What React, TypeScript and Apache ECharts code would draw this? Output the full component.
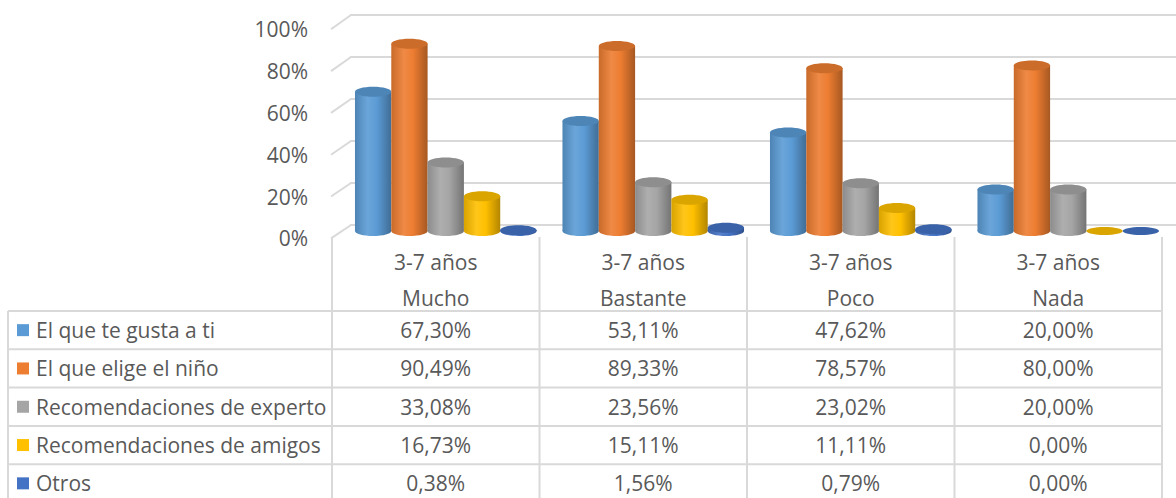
import React, { useEffect, useRef } from "react";
import * as echarts from "echarts";

const ageGroup = "3-7 años";
const categories = ["Mucho", "Bastante", "Poco", "Nada"];
const seriesNames = [
  "El que te gusta a ti",
  "El que elige el niño",
  "Recomendaciones de experto",
  "Recomendaciones de amigos",
  "Otros",
];
const gustaTi = [67.3, 53.11, 47.62, 20.0];
const eligeNino = [90.49, 89.33, 78.57, 80.0];
const experto = [33.08, 23.56, 23.02, 20.0];
const amigos = [16.73, 15.11, 11.11, 0.0];
const otros = [0.38, 1.56, 0.79, 0.0];
const seriesValues = [gustaTi, eligeNino, experto, amigos, otros];
const colors = ["#5B9BD5", "#ED7D31", "#A5A5A5", "#FFC000", "#4472C4"];
const yTicks = [0, 20, 40, 60, 80, 100];

const FONT = "'Open Sans', sans-serif";
const FS = 21;
const TEXT = "#595959";
const LINE = "#d9d9d9";

// table layout
const TABLE_LEFT = 8;
const LABEL_COL_RIGHT = 332;
const COL_W = 207.5;
const HEADER_TOP = 237;
const ROW_TOP = 311;
const ROW_H = 38.3;
const BOTTOM = 498;

function shade(hex: string, f: number): string {
  const n = parseInt(hex.slice(1), 16);
  let r = (n >> 16) & 255, g = (n >> 8) & 255, b = n & 255;
  const t = f < 0 ? 0 : 255;
  const p = Math.abs(f);
  r = Math.round(r + (t - r) * p);
  g = Math.round(g + (t - g) * p);
  b = Math.round(b + (t - b) * p);
  return "#" + ((1 << 24) + (r << 16) + (g << 8) + b).toString(16).slice(1);
}

const fmt = (v: number) => v.toFixed(2).replace(".", ",") + "%";

export default function App() {
  const ref = useRef<HTMLDivElement>(null);
  useEffect(() => {
    const chart = echarts.init(ref.current!, null, { renderer: "svg" });
    const nS = seriesValues.length;
    const series = seriesValues.map((vals, si) => ({
      type: "custom",
      name: seriesNames[si],
      xAxisIndex: 0,
      yAxisIndex: 0,
      z: 5,
      data: vals.map((v, i) => [i, v]),
      encode: { x: 0, y: 1 },
      renderItem: (params: any, api: any) => {
        const c = api.value(0);
        const v = api.value(1);
        const base = api.coord([c, 0]);
        const top = api.coord([c, v]);
        const catW = api.size([1, 0])[0];
        const bw = catW * 0.175;
        const x0 = base[0] - (bw * nS) / 2 + si * bw;
        const cx = x0 + bw / 2;
        const rx = bw / 2;
        const ry = 5;
        const col = colors[si];
        const grad = new echarts.graphic.LinearGradient(0, 0, 1, 0, [
          { offset: 0, color: shade(col, -0.15) },
          { offset: 0.35, color: shade(col, 0.1) },
          { offset: 0.6, color: col },
          { offset: 1, color: shade(col, -0.3) },
        ]);
        const children: any[] = [];
        if (v > 0.2) {
          children.push({
            type: "ellipse",
            shape: { cx, cy: base[1], rx, ry },
            style: { fill: grad },
          });
          children.push({
            type: "rect",
            shape: { x: x0, y: top[1], width: bw, height: base[1] - top[1] },
            style: { fill: grad },
          });
          children.push({
            type: "ellipse",
            shape: { cx, cy: top[1], rx, ry },
            style: { fill: shade(col, -0.14) },
          });
        } else {
          children.push({
            type: "ellipse",
            shape: { cx, cy: top[1], rx, ry: 4 },
            style: { fill: shade(col, -0.14) },
          });
        }
        return { type: "group", children };
      },
    }));

    chart.setOption({
      animation: false,
      grid: [
        { left: 342, width: COL_W * 4, top: 24, height: 207 },
        { left: 350, right: 0, top: 15, height: 210 },
        { left: 331, width: 1, top: 29.3, height: 209 },
      ],
      xAxis: [
        { type: "category", gridIndex: 0, data: categories, show: false },
        { type: "category", gridIndex: 1, data: categories, show: false },
        { type: "value", gridIndex: 2, show: false },
      ],
      yAxis: [
        { type: "value", gridIndex: 0, min: 0, max: 100, show: false },
        {
          type: "value",
          gridIndex: 1,
          min: 0,
          max: 100,
          interval: 20,
          axisLine: { show: false },
          axisTick: { show: false },
          axisLabel: { show: false },
          splitLine: { show: true, lineStyle: { color: LINE, width: 2 } },
        },
        {
          type: "value",
          gridIndex: 2,
          min: 0,
          max: 100,
          interval: 20,
          axisLine: { show: false },
          axisTick: { show: false },
          splitLine: { show: false },
          axisLabel: {
            formatter: "{value}%",
            margin: 23,
            fontSize: FS,
            color: TEXT,
            fontFamily: FONT,
          },
        },
      ],
      series,
    });

    const graphics: any[] = [];
    // diagonal connectors between front labels and back wall lines
    yTicks.forEach((t) => {
      const yBack = chart.convertToPixel({ yAxisIndex: 1 } as any, t) as number;
      const yFront = chart.convertToPixel({ yAxisIndex: 2 } as any, t) as number;
      graphics.push({
        type: "line",
        shape: { x1: 331, y1: yFront, x2: 351, y2: yBack },
        style: { stroke: LINE, lineWidth: 2 },
      });
    });

    // table lines
    for (let k = 0; k <= seriesNames.length; k++) {
      const y = ROW_TOP + k * ROW_H;
      graphics.push({
        type: "line",
        shape: { x1: TABLE_LEFT, y1: y, x2: LABEL_COL_RIGHT + COL_W * 4, y2: y },
        style: { stroke: LINE, lineWidth: 2 },
      });
    }
    graphics.push({
      type: "line",
      shape: { x1: TABLE_LEFT, y1: ROW_TOP, x2: TABLE_LEFT, y2: BOTTOM },
      style: { stroke: LINE, lineWidth: 2 },
    });
    for (let j = 0; j <= categories.length; j++) {
      const x = LABEL_COL_RIGHT + j * COL_W;
      graphics.push({
        type: "line",
        shape: { x1: x, y1: HEADER_TOP, x2: x, y2: BOTTOM },
        style: { stroke: LINE, lineWidth: 2 },
      });
    }
    // header texts
    categories.forEach((cat, j) => {
      const cx = LABEL_COL_RIGHT + j * COL_W + COL_W / 2;
      graphics.push({
        type: "text",
        x: cx,
        y: 262,
        style: {
          text: ageGroup,
          fill: TEXT,
          font: `${FS}px ${FONT}`,
          textAlign: "center",
          textVerticalAlign: "middle",
        },
      });
      graphics.push({
        type: "text",
        x: cx,
        y: 298,
        style: {
          text: cat,
          fill: TEXT,
          font: `${FS}px ${FONT}`,
          textAlign: "center",
          textVerticalAlign: "middle",
        },
      });
    });
    // rows
    seriesNames.forEach((name, si) => {
      const cy = ROW_TOP + si * ROW_H + ROW_H / 2;
      graphics.push({
        type: "rect",
        shape: { x: 17, y: cy - 6, width: 12, height: 12 },
        style: { fill: colors[si] },
      });
      graphics.push({
        type: "text",
        x: 36,
        y: cy,
        style: {
          text: name,
          fill: TEXT,
          font: `${FS}px ${FONT}`,
          textAlign: "left",
          textVerticalAlign: "middle",
        },
      });
      seriesValues[si].forEach((v, j) => {
        graphics.push({
          type: "text",
          x: LABEL_COL_RIGHT + j * COL_W + COL_W / 2,
          y: cy,
          style: {
            text: fmt(v),
            fill: TEXT,
            font: `${FS}px ${FONT}`,
            textAlign: "center",
            textVerticalAlign: "middle",
          },
        });
      });
    });

    chart.setOption({ graphic: graphics });
    return () => chart.dispose();
  }, []);
  return (
    <div
      ref={ref}
      style={{ position: "fixed", left: 0, top: 0, width: 1176, height: 498, background: "#fff" }}
    />
  );
}
